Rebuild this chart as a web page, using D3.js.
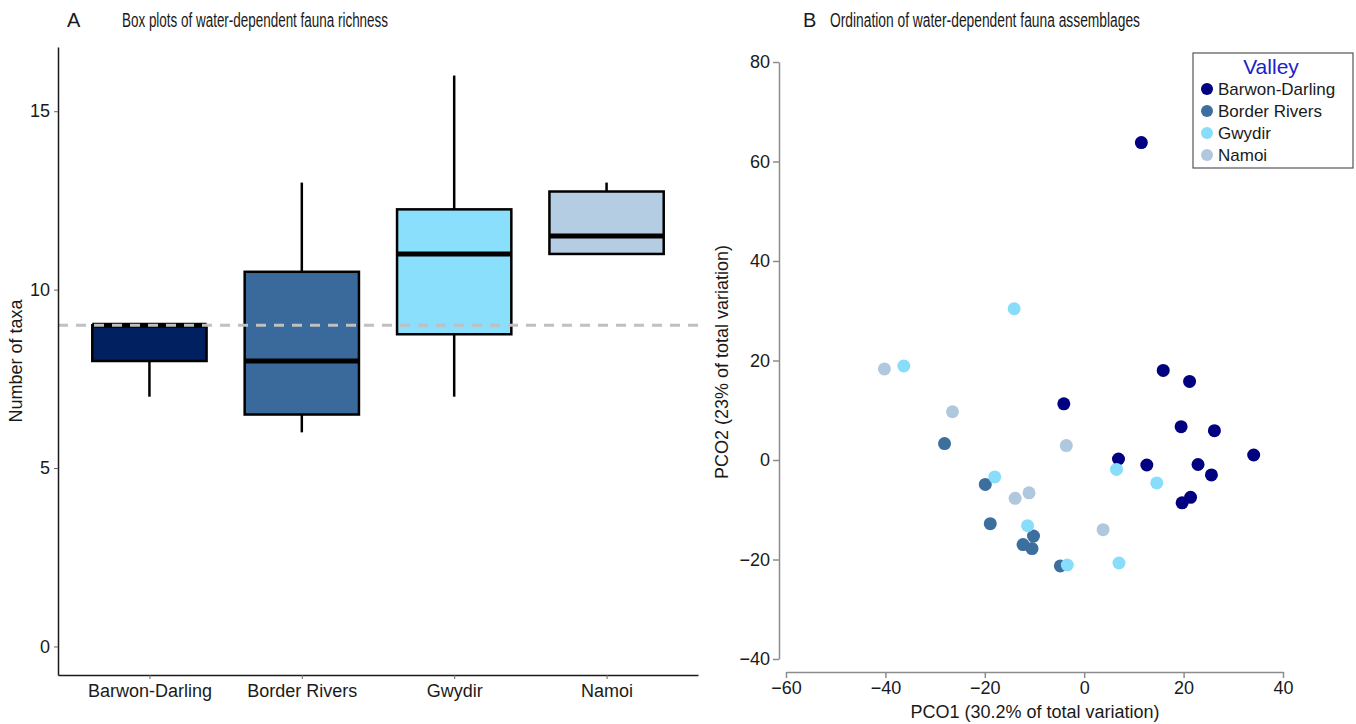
<!DOCTYPE html>
<html>
<head>
<meta charset="utf-8">
<script src="https://cdn.jsdelivr.net/npm/d3@7"></script>
<style>
  body { margin: 0; background: #fff; }
  svg text { font-family: "Liberation Sans", Arial, sans-serif; }
</style>
</head>
<body>
<div id="chart"></div>
<script>
// box plot data (panel A)
const valleys = ['Barwon-Darling', 'Border Rivers', 'Gwydir', 'Namoi'];
const boxColors = ['#002060', '#3a6a9b', '#8adffd', '#b4cde2'];
const whiskerLow = [7, 6, 7, 11];
const q1 = [8, 6.5, 8.75, 11];
const median = [9, 8, 11, 11.5];
const q3 = [9, 10.5, 12.25, 12.75];
const whiskerHigh = [9, 13, 16, 13];
const refLine = 9;
const yTicksA = [0, 5, 10, 15];

// ordination scores (panel B), one pair of arrays per valley
const pcoColors = ['#000080', '#3c6e9e', '#88ddfb', '#b0c8de'];
const bdX = [11.5, 15.9, 21.2, -4.1, 19.5, 26.2, 34.1, 6.9, 12.6, 22.9, 25.6, 21.4, 19.7];
const bdY = [63.8, 18.0, 15.8, 11.3, 6.7, 5.9, 1.0, 0.2, -1.0, -0.9, -3.0, -7.5, -8.6];
const brX = [-28.1, -19.9, -18.9, -10.2, -12.3, -10.5, -4.8];
const brY = [3.3, -4.9, -12.8, -15.3, -17.0, -17.8, -21.3];
const gwX = [-14.1, -36.3, -18.0, -11.4, -3.4, 6.5, 14.6, 7.0];
const gwY = [30.4, 18.9, -3.4, -13.2, -21.1, -1.9, -4.6, -20.7];
const naX = [-40.2, -26.5, -3.6, -13.9, -11.1, 3.8];
const naY = [18.3, 9.7, 2.9, -7.7, -6.6, -14.0];
const xTicksB = [-60, -40, -20, 0, 20, 40];
const yTicksB = [-40, -20, 0, 20, 40, 60, 80];

const width = 1356;
const height = 724;
const textCol = '#1a1a1a';

const svg = d3.select('#chart')
  .append('svg')
  .attr('width', width)
  .attr('height', height);

// ---------- panel A: box plots ----------
const xA = d3.scalePoint().domain(valleys).range([58, 698]).padding(0.6);
const yA = d3.scaleLinear().domain([-0.8, 16.8]).range([675, 47]);
const boxW = xA.step() * 0.75;

svg.append('text')
  .attr('x', 67).attr('y', 27).style('font-size', '20px').style('fill', textCol).text('A');
svg.append('text')
  .attr('x', 122).attr('y', 27).style('font-size', '20px').style('fill', textCol)
  .attr('textLength', 266).attr('lengthAdjust', 'spacingAndGlyphs')
  .text('Box plots of water-dependent fauna richness');

const boxes = valleys.map((v, i) => ({
  name: v, color: boxColors[i],
  lo: whiskerLow[i], q1: q1[i], med: median[i], q3: q3[i], hi: whiskerHigh[i]
}));

const box = svg.selectAll('.box')
  .data(boxes)
  .enter()
  .append('g')
  .attr('class', 'box');

// whiskers
box.append('line')
  .attr('x1', d => xA(d.name)).attr('x2', d => xA(d.name))
  .attr('y1', d => yA(d.hi)).attr('y2', d => yA(d.q3))
  .attr('stroke', '#000').attr('stroke-width', 2.5);
box.append('line')
  .attr('x1', d => xA(d.name)).attr('x2', d => xA(d.name))
  .attr('y1', d => yA(d.q1)).attr('y2', d => yA(d.lo))
  .attr('stroke', '#000').attr('stroke-width', 2.5);

box.append('rect')
  .attr('x', d => xA(d.name) - boxW / 2)
  .attr('width', boxW)
  .attr('y', d => yA(d.q3))
  .attr('height', d => yA(d.q1) - yA(d.q3))
  .attr('fill', d => d.color)
  .attr('stroke', '#000')
  .attr('stroke-width', 2.5);

box.append('line')
  .attr('x1', d => xA(d.name) - boxW / 2).attr('x2', d => xA(d.name) + boxW / 2)
  .attr('y1', d => yA(d.med)).attr('y2', d => yA(d.med))
  .attr('stroke', '#000').attr('stroke-width', 5);

// dashed reference line on top of boxes
svg.append('line')
  .attr('x1', 58).attr('x2', 700)
  .attr('y1', yA(refLine)).attr('y2', yA(refLine))
  .attr('stroke', '#c0c0c0').attr('stroke-width', 3)
  .attr('stroke-dasharray', '10,8');

const axisYA = svg.append('g')
  .attr('transform', 'translate(58,0)')
  .call(d3.axisLeft(yA).tickValues(yTicksA).tickSize(4).tickSizeOuter(0).tickPadding(4));
const axisXA = svg.append('g')
  .attr('transform', 'translate(0,675)')
  .call(d3.axisBottom(xA).tickSize(4).tickSizeOuter(0).tickPadding(5));
[axisYA, axisXA].forEach(a => {
  a.select('.domain').attr('stroke', textCol).attr('stroke-width', 1.5);
  a.selectAll('.tick line').attr('stroke', '#666');
  a.selectAll('.tick text').style('font-size', '18px').style('fill', textCol);
});

svg.append('text')
  .attr('transform', 'translate(22,361) rotate(-90)')
  .attr('text-anchor', 'middle')
  .style('font-size', '18px').style('fill', textCol)
  .text('Number of taxa');

// ---------- panel B: ordination ----------
const xB = d3.scaleLinear().domain([-60, 40]).range([786, 1283]);
const yB = d3.scaleLinear().domain([-40, 80]).range([659, 62]);

svg.append('text')
  .attr('x', 803).attr('y', 27).style('font-size', '20px').style('fill', textCol).text('B');
svg.append('text')
  .attr('x', 830).attr('y', 27).style('font-size', '20px').style('fill', textCol)
  .attr('textLength', 310).attr('lengthAdjust', 'spacingAndGlyphs')
  .text('Ordination of water-dependent fauna assemblages');

const axisYB = svg.append('g')
  .attr('transform', 'translate(779,0)')
  .call(d3.axisLeft(yB).tickValues(yTicksB).tickSize(6).tickSizeOuter(0).tickPadding(3));
const axisXB = svg.append('g')
  .attr('transform', 'translate(0,672)')
  .call(d3.axisBottom(xB).tickValues(xTicksB).tickSize(6).tickSizeOuter(0).tickPadding(3));
[axisYB, axisXB].forEach(a => {
  a.select('.domain').attr('stroke', '#8c8c8c').attr('stroke-width', 1.5);
  a.selectAll('.tick line').attr('stroke', '#8c8c8c').attr('stroke-width', 1.5);
  a.selectAll('.tick text').style('font-size', '18px').style('fill', textCol);
});

svg.append('text')
  .attr('x', 1035).attr('y', 718)
  .attr('text-anchor', 'middle')
  .style('font-size', '18px').style('fill', textCol)
  .text('PCO1 (30.2% of total variation)');
svg.append('text')
  .attr('transform', 'translate(728,362) rotate(-90)')
  .attr('text-anchor', 'middle')
  .style('font-size', '18px').style('fill', textCol)
  .text('PCO2 (23% of total variation)');

// points, drawn valley by valley so later ones sit on top
const series = [[bdX, bdY], [brX, brY], [gwX, gwY], [naX, naY]];
series.forEach((s, i) => {
  const pts = s[0].map((x, j) => ({ x: x, y: s[1][j] }));
  svg.append('g').selectAll('circle')
    .data(pts)
    .enter()
    .append('circle')
    .attr('cx', d => xB(d.x))
    .attr('cy', d => yB(d.y))
    .attr('r', 6.5)
    .attr('fill', pcoColors[i]);
});

// legend
const legend = svg.append('g').attr('transform', 'translate(1193,53)');
legend.append('rect')
  .attr('width', 160).attr('height', 115)
  .attr('fill', '#fff').attr('stroke', '#555').attr('stroke-width', 1.2);
legend.append('text')
  .attr('x', 78).attr('y', 21)
  .attr('text-anchor', 'middle')
  .style('font-size', '21px')
  .style('fill', '#2020c8')
  .text('Valley');
const item = legend.selectAll('.item')
  .data(valleys)
  .enter()
  .append('g')
  .attr('transform', (d, i) => `translate(0,${36 + i * 22})`);
item.append('circle').attr('cx', 14).attr('r', 6).attr('fill', (d, i) => pcoColors[i]);
item.append('text')
  .attr('x', 25).attr('dy', '0.35em')
  .style('font-size', '17px').style('fill', textCol)
  .text(d => d);
</script>
</body>
</html>
